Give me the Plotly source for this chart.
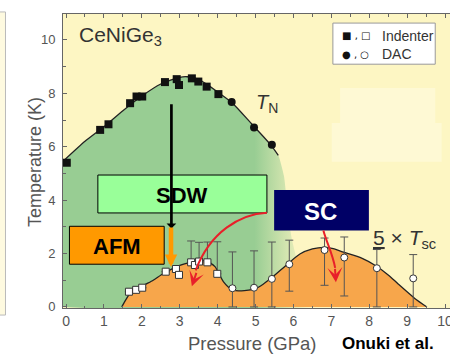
import plotly.graph_objects as go

# ---------------- data ----------------
# T_N : filled symbols
tn_ind_p = [0.02, 0.90, 1.12, 1.69, 1.86, 2.01, 2.61, 2.92, 2.98, 3.32, 3.49, 3.71, 4.02]
tn_ind_t = [5.40, 6.63, 6.84, 7.63, 7.88, 7.88, 8.42, 8.53, 8.31, 8.56, 8.44, 8.25, 7.97]
tn_dac_p = [4.37, 4.96, 5.43]
tn_dac_t = [7.67, 6.72, 6.07]
tn_curve_p = [-0.08, 0.5, 1.0, 1.5, 2.0, 2.5, 3.0, 3.2, 3.5, 4.0, 4.4, 4.9, 5.4, 5.6]
tn_curve_t = [5.45, 6.2, 6.75, 7.35, 7.9, 8.35, 8.6, 8.62, 8.52, 8.05, 7.62, 6.85, 6.07, 5.68]
dome_edge_p = [5.75, 5.85, 5.95, 6.15, 6.4]
dome_edge_t = [4.9, 3.6, 2.6, 1.4, 0.0]

# 5 x T_sc : open symbols
sc_ind_p = [1.66, 1.85, 2.01, 2.63, 2.90, 2.98, 3.30, 3.40, 3.51, 3.73, 3.99]
sc_ind_t = [0.57, 0.64, 0.72, 1.32, 1.42, 1.20, 1.67, 1.57, 1.70, 1.67, 1.24]
sc_ind_err_up = [0, 0, 0, 0, 0, 0, 0.80, 0, 0.72, 0.76, 1.20]
sc_ind_err_dn = [0, 0, 0, 0, 0, 0, 0, 0, 0, 0, 0]
sc_dac_p = [4.39, 4.96, 5.43, 5.89, 6.82, 7.34, 8.20, 9.16]
sc_dac_t = [0.70, 0.72, 1.05, 1.60, 2.13, 1.85, 1.45, 1.07]
sc_dac_err_up = [1.36, 1.38, 1.38, 0.90, 0.45, 0.77, 0.70, 0.89]
sc_dac_err_dn = [0.70, 0.72, 1.05, 1.01, 1.32, 1.44, 1.45, 1.07]
sc_curve_p = [1.47, 1.69, 2.04, 2.3, 2.57, 3.0, 3.3, 3.55, 3.75, 3.93, 4.15, 4.37, 4.63, 4.99,
              5.2, 5.43, 5.87, 6.17, 6.5, 6.8, 7.05, 7.32, 7.8, 8.15, 8.5, 8.77, 9.2, 9.52]
sc_curve_t = [0, 0.5, 0.8, 1.0, 1.25, 1.56, 1.68, 1.74, 1.68, 1.51, 0.95, 0.66, 0.6, 0.68,
              0.85, 1.1, 1.64, 1.98, 2.17, 2.23, 2.18, 2.05, 1.83, 1.56, 1.2, 0.85, 0.32, 0]

x_ticks = [0, 1, 2, 3, 4, 5, 6, 7, 8, 9, 10]
y_ticks = [0, 2, 4, 6, 8, 10]

# ---------------- styles ----------------
YELLOW = "#FDF6C3"
GREEN = "#98CD93"
ORANGE_FILL = "#F7A64B"
FONT = "Arial, Liberation Sans, sans-serif"
RED = "#E8202A"

fig = go.Figure()

# green AFM/SDW dome with fade to the right
dome_p = tn_curve_p + dome_edge_p + [tn_curve_p[0]]
dome_t = tn_curve_t + dome_edge_t + [0.0]
fig.add_trace(go.Scatter(
    x=dome_p, y=dome_t, mode="lines", fill="toself", line=dict(width=0, shape="spline", smoothing=0.5),
    fillgradient=dict(type="horizontal", start=-0.08, stop=6.4,
                      colorscale=[[0, GREEN], [0.78, GREEN], [1, YELLOW]]),
    hoverinfo="skip", showlegend=False))

# orange SC dome
fig.add_trace(go.Scatter(
    x=sc_curve_p, y=sc_curve_t, mode="lines", fill="toself", fillcolor=ORANGE_FILL,
    line=dict(width=0, shape="spline", smoothing=0.6), hoverinfo="skip", showlegend=False))

# curves
fig.add_trace(go.Scatter(x=tn_curve_p, y=tn_curve_t, mode="lines",
                         line=dict(color="#222", width=1.3, shape="spline", smoothing=0.6),
                         showlegend=False, hoverinfo="skip"))
fig.add_trace(go.Scatter(x=sc_curve_p, y=sc_curve_t, mode="lines",
                         line=dict(color="#222", width=1.3, shape="spline", smoothing=0.6),
                         showlegend=False, hoverinfo="skip"))

# points
fig.add_trace(go.Scatter(x=tn_ind_p, y=tn_ind_t, mode="markers",
                         marker=dict(symbol="square", size=8, color="#111"), showlegend=False))
fig.add_trace(go.Scatter(x=tn_dac_p, y=tn_dac_t, mode="markers",
                         marker=dict(symbol="circle", size=8, color="#111"), showlegend=False))
fig.add_trace(go.Scatter(x=sc_ind_p, y=sc_ind_t, mode="markers",
                         error_y=dict(type="data", symmetric=False, array=sc_ind_err_up,
                                      arrayminus=sc_ind_err_dn, color="#555", thickness=1, width=4),
                         marker=dict(symbol="square", size=7, color="white",
                                     line=dict(color="#333", width=1)), showlegend=False))
fig.add_trace(go.Scatter(x=sc_dac_p, y=sc_dac_t, mode="markers",
                         error_y=dict(type="data", symmetric=False, array=sc_dac_err_up,
                                      arrayminus=sc_dac_err_dn, color="#555", thickness=1, width=4),
                         marker=dict(symbol="circle", size=7, color="white",
                                     line=dict(color="#333", width=1)), showlegend=False))

shapes = [
    # left neighbour panel strip
    dict(type="rect", xref="paper", yref="paper", x0=-0.2, x1=-0.1486, y0=-0.024, y1=1.007,
         fillcolor="#FEFAE0", line=dict(color="#BBBBBB", width=1), layer="below"),
    # faint lighter patches
    dict(type="rect", x0=7.23, x1=9.74, y0=6.89, y1=8.2, fillcolor="#FEF9D4",
         line=dict(width=0), layer="below"),
    dict(type="rect", x0=7.01, x1=9.91, y0=5.44, y1=6.89, fillcolor="#FEF9D4",
         line=dict(width=0), layer="below"),
    # legend box
    dict(type="rect", x0=7.04, x1=9.74, y0=9.09, y1=10.63, fillcolor="white",
         line=dict(color="#999", width=1)),
    # boxes
    dict(type="rect", x0=0.84, x1=5.30, y0=3.52, y1=4.94, fillcolor="#99FF99",
         line=dict(color="black", width=1)),
    dict(type="rect", x0=0.09, x1=2.59, y0=1.60, y1=3.02, fillcolor="#FF9900",
         line=dict(color="black", width=1)),
    dict(type="rect", x0=5.49, x1=7.99, y0=2.86, y1=4.38, fillcolor="#000066",
         line=dict(width=0)),
    # red curved arrows (bodies)
    dict(type="path", path="M 5.30,3.53 C 4.59,3.48 3.80,2.81 3.42,1.37",
         line=dict(color=RED, width=2)),
    dict(type="path", path="M 6.79,2.86 C 6.86,2.47 7.04,1.96 7.10,1.46",
         line=dict(color=RED, width=2)),
]

annotations = [
    # black and orange vertical arrows
    dict(x=2.78, y=2.94, ax=2.78, ay=7.65, xref="x", yref="y", axref="x", ayref="y",
         text="", showarrow=True, arrowhead=1, arrowsize=0.6, arrowwidth=2.7, arrowcolor="black",
         standoff=0),
    dict(x=2.77, y=1.50, ax=2.77, ay=3.03, xref="x", yref="y", axref="x", ayref="y",
         text="", showarrow=True, arrowhead=2, arrowsize=0.55, arrowwidth=4.5, arrowcolor="#FF9900",
         standoff=0),
    # red arrow heads
    dict(x=3.32, y=0.77, ax=5, ay=-15, xref="x", yref="y", text="", showarrow=True,
         arrowhead=3, arrowsize=1.25, arrowwidth=2, arrowcolor=RED, standoff=0),
    dict(x=7.12, y=0.92, ax=-1, ay=-15, xref="x", yref="y", text="", showarrow=True,
         arrowhead=3, arrowsize=1.25, arrowwidth=2, arrowcolor=RED, standoff=0),
    # box labels
    dict(x=3.07, y=4.19, text="<b>SDW</b>", showarrow=False, font=dict(family=FONT, size=22, color="black")),
    dict(x=1.34, y=2.28, text="<b>AFM</b>", showarrow=False, font=dict(family=FONT, size=22, color="black")),
    dict(x=6.72, y=3.57, text="<b>SC</b>", showarrow=False, font=dict(family=FONT, size=24, color="white")),
    # titles inside plot
    dict(x=0.29, y=10.15, text="CeNiGe<sub>3</sub>", showarrow=False, xanchor="left",
         font=dict(family=FONT, size=21, color="#333")),
    dict(x=5.3, y=7.6, text="<i>T</i><sub>N</sub>", showarrow=False,
         font=dict(family=FONT, size=20, color="#333")),
    dict(x=8.92, y=2.55, text="<u>5</u> × <i>T</i><sub>sc</sub>", showarrow=False,
         font=dict(family=FONT, size=21, color="#333")),
    # legend
    dict(x=7.23, y=10.16, text="■ , □", showarrow=False, xanchor="left",
         font=dict(family="DejaVu Sans", size=10, color="#111")),
    dict(x=7.23, y=9.46, text="● , ○", showarrow=False, xanchor="left",
         font=dict(family="DejaVu Sans", size=10, color="#111")),
    dict(x=8.28, y=10.16, text="Indenter", showarrow=False, xanchor="left",
         font=dict(family=FONT, size=14, color="#333")),
    dict(x=8.28, y=9.46, text="DAC", showarrow=False, xanchor="left",
         font=dict(family=FONT, size=14, color="#333")),
    # axis titles
    dict(x=-0.072, y=0.497, xref="paper", yref="paper", text="Temperature (K)", textangle=-90,
         xanchor="center", yanchor="middle",
         showarrow=False, font=dict(family=FONT, size=18, color="#555")),
    dict(x=0.49, y=-0.122, xref="paper", yref="paper", text="Pressure (GPa)",
         xanchor="center", yanchor="middle",
         showarrow=False, font=dict(family=FONT, size=18.5, color="#555")),
    dict(x=0.84, y=-0.122, xref="paper", yref="paper", text="<b>Onuki et al.</b>",
         xanchor="center", yanchor="middle",
         showarrow=False, font=dict(family=FONT, size=17, color="black")),
]

fig.update_layout(
    width=450, height=354,
    margin=dict(l=63, r=0, t=14, b=46),
    paper_bgcolor="white", plot_bgcolor=YELLOW,
    shapes=shapes, annotations=annotations, showlegend=False,
    xaxis=dict(range=[-0.08, 10.13], tickmode="array", tickvals=x_ticks,
               ticktext=[str(v) for v in x_ticks],
               ticks="inside", ticklen=4, tickcolor="#666",
               minor=dict(dtick=0.5, tick0=0, ticks="inside", ticklen=2.5, tickcolor="#666"),
               showline=True, linecolor="#666", linewidth=1, mirror="ticks",
               showgrid=False, zeroline=False, automargin=False, ticklabeloverflow="allow",
               tickfont=dict(family=FONT, size=14, color="#555")),
    yaxis=dict(range=[-0.04, 10.97], tickmode="array", tickvals=y_ticks,
               ticktext=[str(v) for v in y_ticks],
               ticks="inside", ticklen=4, tickcolor="#666",
               minor=dict(dtick=1, tick0=0, ticks="inside", ticklen=2.5, tickcolor="#666"),
               showline=True, linecolor="#666", linewidth=1,
               showgrid=False, zeroline=False, automargin=False, ticklabelstandoff=4,
               tickfont=dict(family=FONT, size=13, color="#555")),
)

fig.write_html("out.html")
